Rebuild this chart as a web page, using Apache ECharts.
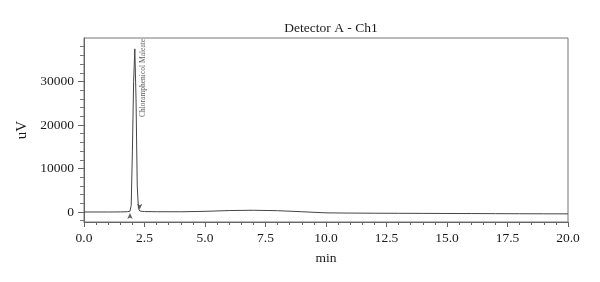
<!DOCTYPE html>
<html>
<head>
<meta charset="utf-8">
<script src="https://cdn.jsdelivr.net/npm/echarts@6/dist/echarts.min.js"></script>
<style>
  html, body { margin: 0; padding: 0; background: #fff; }
  #chart { width: 600px; height: 282px; }
</style>
</head>
<body>
<div id="chart"></div>
<script>
// retention time (min) and detector signal (uV)
const times = [0, 0.5, 1.0, 1.5, 1.8, 1.9, 1.95, 2.0, 2.05, 2.1, 2.15, 2.2, 2.25, 2.3, 2.4, 2.5, 3.0, 4.0, 5.0, 6.0, 7.0, 8.0, 9.0, 10.0, 11.0, 12.0, 13.0, 14.0, 15.0, 16.0, 17.0, 18.0, 19.0, 20.0]
const signal = [0, 0, 0, 20, 60, 200, 1500, 14000, 30000, 37500, 26000, 6000, 800, 250, 150, 100, 60, 50, 150, 330, 400, 300, 60, -200, -250, -280, -300, -320, -340, -360, -380, -400, -420, -430]
// peak start / end markers
const arrowTimes = [1.9, 2.3]
const arrowValues = [-250, 500]
const arrowTurn = [0, 180]
const peakName = 'Chloramphenicol Maleate'
const peakLabelAt = [2.44, 39800]
const xTicks = [0, 2.5, 5, 7.5, 10, 12.5, 15, 17.5, 20]
const yLabels = [0, 10000, 20000, 30000]

const minorY = []
for (let v = -2000; v <= 38000; v += 2000) minorY.push(v)

const serif = 'Liberation Serif'

const chart = echarts.init(document.getElementById('chart'))
chart.setOption({
  animation: false,
  title: {
    text: 'Detector A - Ch1',
    left: 326,
    textAlign: 'center',
    top: 16,
    textStyle: { fontFamily: serif, fontSize: 13.5, fontWeight: 'normal', color: '#1a1a1a' }
  },
  grid: {
    left: 84, right: 32, top: 38, bottom: 60,
    show: true, borderColor: '#777', borderWidth: 1
  },
  xAxis: {
    type: 'value',
    min: 0, max: 20, interval: 2.5,
    name: 'min', nameLocation: 'middle', nameGap: 29,
    nameTextStyle: { fontFamily: serif, fontSize: 13.5, color: '#1a1a1a' },
    axisLine: { onZero: false, lineStyle: { color: '#666' } },
    axisTick: { length: 5, lineStyle: { color: '#666' } },
    minorTick: { show: true, splitNumber: 5, length: 3, lineStyle: { color: '#666' } },
    splitLine: { show: false },
    axisLabel: {
      fontFamily: serif, fontSize: 13.5, color: '#1a1a1a', margin: 9,
      customValues: xTicks,
      formatter: v => v.toFixed(1)
    }
  },
  yAxis: [{
    type: 'value',
    min: -2300, max: 40000,
    name: 'uV', nameLocation: 'middle', nameGap: 52,
    nameTextStyle: { fontFamily: serif, fontSize: 15, color: '#1a1a1a' },
    axisLine: { show: true, lineStyle: { color: '#666' } },
    axisTick: { show: true, length: 4, customValues: minorY, lineStyle: { color: '#777' } },
    splitLine: { show: false },
    axisLabel: {
      fontFamily: serif, fontSize: 13.5, color: '#1a1a1a', margin: 10,
      customValues: yLabels,
      formatter: v => String(v)
    }
  }, {
    type: 'value',
    position: 'left',
    min: -2300, max: 40000,
    axisLine: { show: false },
    axisTick: { show: true, length: 6, customValues: yLabels, lineStyle: { color: '#666' } },
    axisLabel: { show: false },
    splitLine: { show: false }
  }],
  series: [{
    type: 'line',
    data: times.map((t, i) => [t, signal[i]]),
    showSymbol: false,
    lineStyle: { color: '#444', width: 1 }
  }, {
    type: 'scatter',
    data: arrowTimes.map((t, i) => ({ value: [t, arrowValues[i]], symbolRotate: arrowTurn[i] })),
    symbol: 'arrow',
    symbolSize: [4, 6],
    itemStyle: { color: '#333' }
  }, {
    type: 'scatter',
    data: [peakLabelAt],
    symbolSize: 0,
    label: {
      show: true,
      formatter: peakName,
      rotate: 90,
      position: 'inside',
      align: 'right',
      verticalAlign: 'middle',
      fontFamily: serif,
      fontSize: 7.5,
      color: '#333'
    }
  }]
})
</script>
</body>
</html>
